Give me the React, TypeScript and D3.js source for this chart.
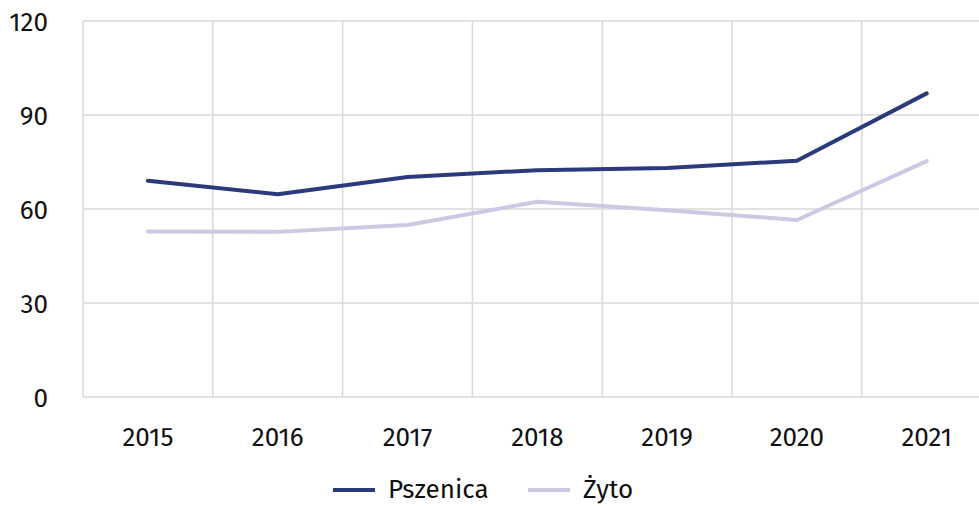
import React, { useEffect, useRef } from "react";
import * as d3 from "d3";

const years = ["2015", "2016", "2017", "2018", "2019", "2020", "2021"];
const pszenica = [69, 64.7, 70.2, 72.4, 73.1, 75.4, 96.9];
const zyto = [52.8, 52.7, 54.9, 62.3, 59.6, 56.5, 75.3];
const yTicks = [0, 30, 60, 90, 120];
const seriesNames = ["Pszenica", "Żyto"];
const seriesColors = ["#2b3a7c", "#cacae2"];

const App = () => {
  const svgRef = useRef<SVGSVGElement>(null);

  useEffect(() => {
    document.body.style.margin = "0";
    const svg = d3.select(svgRef.current);
    svg.selectAll("*").remove();

    const width = 979;
    const left = 83;
    const top = 21;
    const bottom = 397;
    const step = 129.8;
    const font = "'Fira Sans', 'Open Sans', 'Noto Sans', sans-serif";
    const fontSize = 26;

    const x = d3
      .scaleBand()
      .domain(years)
      .range([left, left + step * years.length]);

    const y = d3.scaleLinear().domain([0, 120]).range([bottom, top]);

    // grid
    svg
      .selectAll(".hgrid")
      .data(yTicks)
      .join("line")
      .attr("class", "hgrid")
      .attr("x1", left)
      .attr("x2", width)
      .attr("y1", (d) => y(d))
      .attr("y2", (d) => y(d))
      .attr("stroke", "#d9d9d9")
      .attr("stroke-width", 1.5);

    svg
      .selectAll(".vgrid")
      .data(years)
      .join("line")
      .attr("class", "vgrid")
      .attr("x1", (d) => x(d)!)
      .attr("x2", (d) => x(d)!)
      .attr("y1", top)
      .attr("y2", bottom)
      .attr("stroke", "#d9d9d9")
      .attr("stroke-width", 1.5);

    // y labels
    svg
      .selectAll(".ylab")
      .data(yTicks)
      .join("text")
      .attr("class", "ylab")
      .attr("x", 48)
      .attr("y", (d) => y(d) + 10)
      .attr("text-anchor", "end")
      .attr("font-family", font)
      .attr("font-size", fontSize)
      .attr("fill", "#111")
      .text((d) => d);

    // x labels
    svg
      .selectAll(".xlab")
      .data(years)
      .join("text")
      .attr("class", "xlab")
      .attr("x", (d) => x(d)! + x.bandwidth() / 2)
      .attr("y", 446)
      .attr("text-anchor", "middle")
      .attr("font-family", font)
      .attr("font-size", fontSize)
      .attr("fill", "#111")
      .text((d) => d);

    const line = d3
      .line<number>()
      .x((d, i) => x(years[i])! + x.bandwidth() / 2)
      .y((d) => y(d));

    [zyto, pszenica].forEach((vals, k) => {
      svg
        .append("path")
        .datum(vals)
        .attr("fill", "none")
        .attr("stroke", k === 0 ? seriesColors[1] : seriesColors[0])
        .attr("stroke-width", 4)
        .attr("stroke-linecap", "round")
        .attr("stroke-linejoin", "round")
        .attr("d", line);
    });

    // legend
    const legendX = [333, 528];
    seriesNames.forEach((name, i) => {
      svg
        .append("line")
        .attr("x1", legendX[i])
        .attr("x2", legendX[i] + 42)
        .attr("y1", 490)
        .attr("y2", 490)
        .attr("stroke", seriesColors[i])
        .attr("stroke-width", 4);
      svg
        .append("text")
        .attr("x", legendX[i] + 55)
        .attr("y", 498)
        .attr("font-family", font)
        .attr("font-size", fontSize)
        .attr("fill", "#111")
        .text(name);
    });
  }, []);

  return <svg ref={svgRef} width="979" height="506" style={{ display: "block" }} />;
};

export default App;
